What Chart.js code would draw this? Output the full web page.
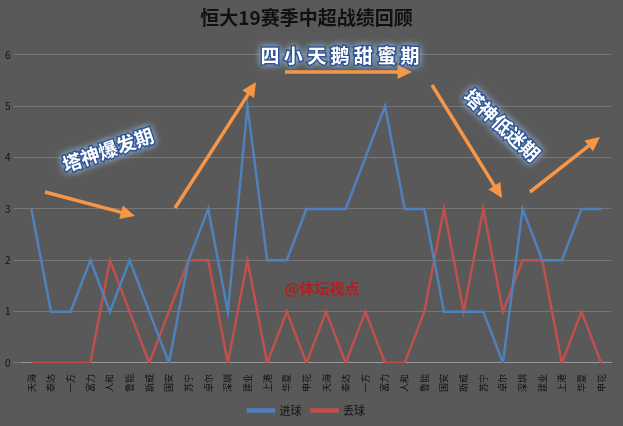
<!DOCTYPE html><html><head><meta charset="utf-8"><script src="https://cdn.jsdelivr.net/npm/chart.js@4"></script>
<style>body{margin:0;background:#595959}#w{width:623px;height:426px}</style></head><body><div id="w"><canvas id="c"></canvas></div>
<script>
const categories=['天海','泰达','一方','富力','人和','鲁能','斯威','国安','苏宁','卓尔','深圳','建业','上港','华夏','申花','天海','泰达','一方','富力','人和','鲁能','国安','斯威','苏宁','卓尔','深圳','建业','上港','华夏','申花'];
const goalsFor=[3,1,1,2,1,2,1,0,2,3,1,5,2,2,3,3,3,4,5,3,3,1,1,1,0,3,2,2,3,3];
const goalsAgainst=[0,0,0,0,2,1,0,1,2,2,0,2,0,1,0,1,0,1,0,0,1,3,1,3,1,2,2,0,1,0];
const yTicks=[0,1,2,3,4,5,6];
const F='"Noto Sans CJK SC",sans-serif';
function arrow(ctx,x1,y1,x2,y2){ctx.save();ctx.strokeStyle='#f79646';ctx.fillStyle='#f79646';ctx.lineWidth=3.5;
const a=Math.atan2(y2-y1,x2-x1);const ex=x2-12*Math.cos(a),ey=y2-12*Math.sin(a);
ctx.beginPath();ctx.moveTo(x1,y1);ctx.lineTo(ex,ey);ctx.stroke();
ctx.beginPath();ctx.moveTo(x2,y2);ctx.lineTo(x2-16*Math.cos(a-0.45),y2-16*Math.sin(a-0.45));ctx.lineTo(x2-16*Math.cos(a+0.45),y2-16*Math.sin(a+0.45));ctx.closePath();ctx.fill();ctx.restore();}
function glow(ctx,t,x,y,rot,size){ctx.save();ctx.translate(x,y);ctx.rotate(rot);ctx.font='bold '+size+'px '+F;ctx.textAlign='center';ctx.textBaseline='middle';
ctx.shadowColor='#9cc3e6';ctx.shadowBlur=7;ctx.strokeStyle='#2f5597';ctx.lineWidth=3;ctx.strokeText(t,0,0);ctx.shadowBlur=0;ctx.fillStyle='#ffffff';ctx.fillText(t,0,0);ctx.restore();}
const deco={id:'deco',afterDraw(ch){const c=ch.ctx;
arrow(c,45,192,135,216);arrow(c,175,208,256,82);arrow(c,285,72,412,72);arrow(c,432,85,502,198);arrow(c,530,192,600,137);
glow(c,'塔神爆发期',108,150,-0.33,19);glow(c,'四 小 天 鹅 甜 蜜 期',340,56,0,19);glow(c,'塔神低迷期',502,125,0.75,19);
c.save();c.font='bold 15px '+F;c.fillStyle='#b02020';c.textAlign='center';c.fillText('@体坛视点',322,288);c.restore();}};
new Chart(document.getElementById('c'),{type:'line',data:{labels:categories,datasets:[
{label:'进球',data:goalsFor,borderColor:'#4f81bd',backgroundColor:'#4f81bd',borderWidth:2.5,pointRadius:0,tension:0},
{label:'丢球',data:goalsAgainst,borderColor:'#c0504d',backgroundColor:'#c0504d',borderWidth:2.5,pointRadius:0,tension:0}]},
options:{responsive:true,maintainAspectRatio:false,animation:false,layout:{padding:{left:2,right:12,top:0,bottom:0}},
plugins:{title:{display:true,text:'恒大19赛季中超战绩回顾',color:'#111',font:{family:F,size:19,weight:'bold'},padding:{top:6,bottom:26}},
legend:{position:'bottom',labels:{color:'#111',boxWidth:26,boxHeight:2,font:{family:F,size:11}}},tooltip:{enabled:false}},
scales:{x:{offset:true,grid:{display:false},border:{color:'#999'},ticks:{color:'#111',maxRotation:90,minRotation:90,autoSkip:false,font:{family:F,size:9}}},
y:{min:0,max:6,afterBuildTicks:s=>{s.ticks=yTicks.map(v=>({value:v}))},grid:{color:'#777'},border:{display:false},ticks:{color:'#111',font:{family:F,size:10}}}}},
plugins:[deco]});
</script></body></html>
